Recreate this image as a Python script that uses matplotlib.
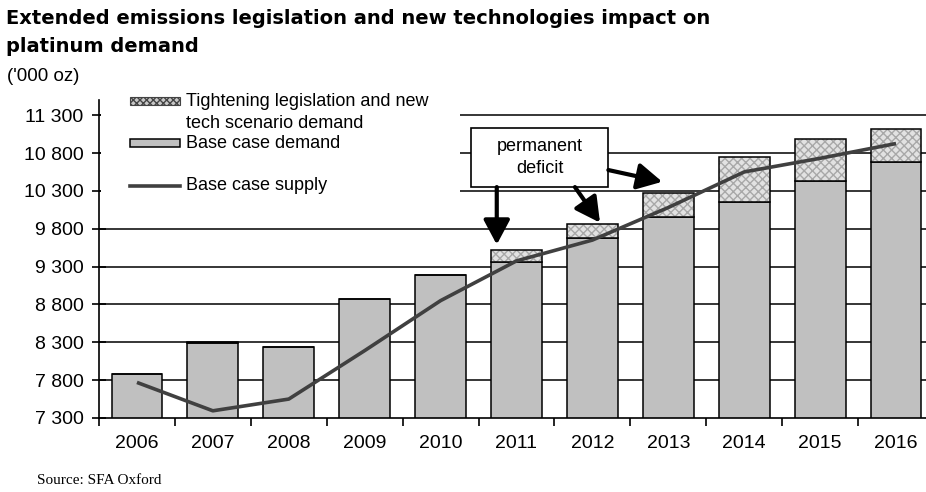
import numpy as np
import matplotlib
matplotlib.use('Agg')
import matplotlib.pyplot as plt
from matplotlib.patches import Rectangle
from matplotlib.lines import Line2D

plt.rcParams['font.family'] = 'Liberation Sans'

years = ['2006', '2007', '2008', '2009', '2010', '2011', '2012', '2013', '2014', '2015', '2016']
base_demand = [7875, 8290, 8240, 8875, 9190, 9360, 9680, 9950, 10155, 10435, 10685]
scenario_demand = [7875, 8305, 8240, 8875, 9190, 9520, 9860, 10275, 10750, 10980, 11115]
base_supply = [7770, 7395, 7550, 8190, 8850, 9375, 9650, 10080, 10550, 10730, 10925]
yticks = [7300, 7800, 8300, 8800, 9300, 9800, 10300, 10800, 11300]

W, H = 926, 492
fig = plt.figure(figsize=(W / 100, H / 100), dpi=100)
# axes placed in pixels, right edge runs off the figure like the original
ax = fig.add_axes([99 / W, 74 / H, 835 / W, 318 / H])

x = np.arange(len(years))
bw = 0.67
extra = np.array(scenario_demand) - np.array(base_demand)

for v in yticks[1:]:
  ax.axhline(v, color='black', lw=1.1, zorder=1)

ax.bar(x, base_demand, bw, color='#c0c0c0', edgecolor='black', lw=1.1, zorder=2)
ax.bar(x, extra, bw, bottom=base_demand, color='#e2e2e2', edgecolor='#a8a8a8',
       hatch='xxxx', lw=0, zorder=2)
ax.bar(x, extra, bw, bottom=base_demand, color='none', edgecolor='black', lw=1.1, zorder=2.1)
ax.plot(x, base_supply, color='#404040', lw=2.6, zorder=3, solid_capstyle='butt')

ax.set_xlim(-0.5, 10.5)
ax.set_ylim(7300, 11500)
ax.set_yticks(yticks)
ax.set_yticklabels([f'{v:,}'.replace(',', ' ') for v in yticks], fontsize=14)
ax.set_xticks(x)
ax.set_xticklabels(years, fontsize=14)
ax.set_xticks(np.arange(-0.5, 11, 1), minor=True)
ax.tick_params(axis='x', which='major', length=0, pad=12)
ax.tick_params(axis='x', which='minor', length=6, width=1.2, direction='out')
ax.tick_params(axis='y', length=10, width=1.2, direction='inout', pad=6)
for s in ['top', 'right']:
  ax.spines[s].set_visible(False)
for s in ['left', 'bottom']:
  ax.spines[s].set_linewidth(1.2)

# annotation box and arrows
ax.add_patch(Rectangle((4.40, 10350), 1.81, 780, facecolor='white', edgecolor='black',
                       lw=1.2, zorder=4))
ax.text(5.305, 10740, 'permanent\ndeficit', ha='center', va='center', fontsize=13,
        linespacing=1.45, zorder=5)
arrow = dict(arrowstyle='-|>,head_width=0.4,head_length=0.75', lw=3, color='black',
             shrinkA=0, shrinkB=0, mutation_scale=20)
ax.annotate('', xy=(4.74, 9590), xytext=(4.74, 10350), arrowprops=arrow, zorder=5)
ax.annotate('', xy=(6.10, 9880), xytext=(5.77, 10350), arrowprops=arrow, zorder=5)
ax.annotate('', xy=(6.92, 10420), xytext=(6.21, 10575), arrowprops=arrow, zorder=5)

# legend drawn by hand in pixel positions
def px(xp, yp):
  return xp / W, 1 - yp / H

tf = fig.transFigure
ax.add_patch(Rectangle(px(101, 201), 359 / W, 108 / H, facecolor='white', edgecolor='none',
                       transform=tf, zorder=2.5, clip_on=False))
ax.add_patch(Rectangle(px(130, 105), 50 / W, 8 / H, facecolor='#c8c8c8', edgecolor='#444444',
                       hatch='xxxxx', lw=0.8, transform=tf, zorder=3, clip_on=False))
ax.add_patch(Rectangle(px(130, 147), 50 / W, 8 / H, facecolor='#c0c0c0', edgecolor='black',
                       lw=1.1, transform=tf, zorder=3, clip_on=False))
ax.add_line(Line2D([130 / W, 180 / W], [1 - 186 / H, 1 - 186 / H], color='#404040', lw=2.6,
                   transform=tf, zorder=3, clip_on=False))
fig.text(*px(186, 101), 'Tightening legislation and new', fontsize=13, va='center')
fig.text(*px(186, 123), 'tech scenario demand', fontsize=13, va='center')
fig.text(*px(186, 143), 'Base case demand', fontsize=13, va='center')
fig.text(*px(186, 186), 'Base case supply', fontsize=13, va='center')

fig.text(*px(6, 18), 'Extended emissions legislation and new technologies impact on',
         fontsize=14.05, fontweight='bold', va='center', family='DejaVu Sans')
fig.text(*px(6, 47), 'platinum demand', fontsize=14.05, fontweight='bold', va='center',
         family='DejaVu Sans')
fig.text(*px(7, 76), "('000 oz)", fontsize=13.5, va='center')
fig.text(*px(37, 480), 'Source: SFA Oxford', fontsize=11, va='center', family='Liberation Serif')

fig.savefig('out.png', dpi=100)
